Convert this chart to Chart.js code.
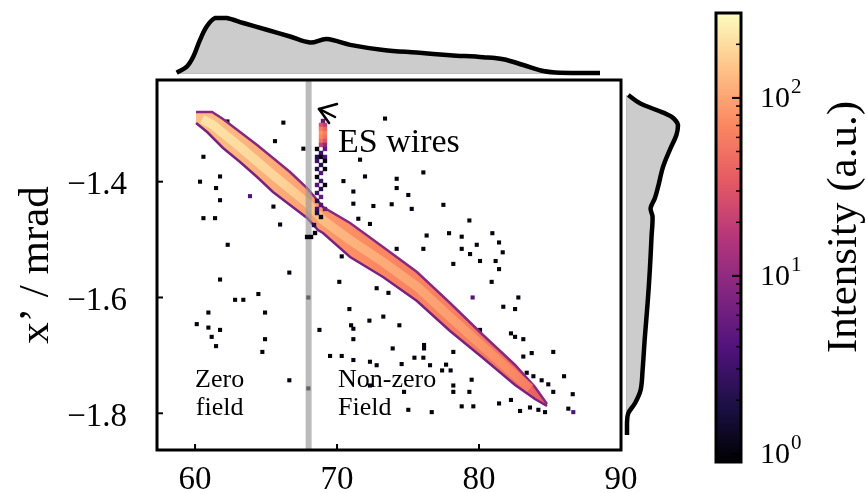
<!DOCTYPE html>
<html>
<head>
<meta charset="utf-8">
<script src="https://cdn.jsdelivr.net/npm/chart.js@4.4.0/dist/chart.umd.min.js"></script>
<style>
  html, body { margin: 0; padding: 0; background: #fff; }
  #wrap { position: relative; width: 866px; height: 493px; overflow: hidden; }
  #wrap canvas { position: absolute; left: 0; top: 0; }
</style>
</head>
<body>
<div id="wrap">
  <canvas id="topm" width="866" height="493"></canvas>
  <canvas id="rightm" width="866" height="493"></canvas>
  <canvas id="main" width="866" height="493"></canvas>
  <canvas id="cbar" width="866" height="493"></canvas>
</div>
<script>
const FONT = "'Liberation Serif', 'Times New Roman', serif";

// axes
const xRange = [57.32, 90];
const yRange = [-1.8634, -1.2244];
const xTicks = [60, 70, 80, 90];
const yTicks = [-1.4, -1.6, -1.8];
const yTickLabels = ['\u22121.4', '\u22121.6', '\u22121.8'];
const yTitle = 'x\u2019 / mrad';

// colour bar (log scale)
const cbRange = [0.9, 300];
const cbTicks = [1, 10, 100];
const cbTickBase = ['10', '10', '10'];
const cbTickExp = ['0', '1', '2'];
const cbTitle = 'Intensity (a.u.)';

// boundary between zero field and non-zero field
const fieldEdgeX = 68.0;

// main beam band: upper and lower edges
const bandUpperX = [60.07, 61.20, 61.97, 63.17, 64.37, 65.49, 66.69, 67.89, 68.66, 69.01, 70.92, 73.24, 75.63, 77.96, 80.28, 82.54, 83.94, 84.79];
const bandUpperY = [-1.2796, -1.2796, -1.2917, -1.3142, -1.3366, -1.3591, -1.3833, -1.4109, -1.4333, -1.4437, -1.4713, -1.5128, -1.5560, -1.6095, -1.6648, -1.7166, -1.7546, -1.7839];
const bandLowerX = [60.07, 60.85, 61.97, 63.17, 64.37, 65.49, 66.69, 67.89, 68.66, 69.01, 70.92, 73.24, 75.63, 77.96, 80.28, 82.54, 83.94, 84.79];
const bandLowerY = [-1.2986, -1.3142, -1.3418, -1.3660, -1.3919, -1.4178, -1.4402, -1.4627, -1.4834, -1.4886, -1.5301, -1.5646, -1.6061, -1.6579, -1.7045, -1.7511, -1.7753, -1.7874];
// band centre (brightest part)
const bandCoreX = [60.5, 61.20, 63.17, 65.49, 67.89, 69.01, 70.92, 73.24, 75.63, 77.96, 80.28, 82.54, 83.60];
const bandCoreY = [-1.292, -1.301, -1.3401, -1.3885, -1.4368, -1.4662, -1.5007, -1.5387, -1.5811, -1.6337, -1.6847, -1.7339, -1.757];
// intensity along the band
const bandIntensityX = [60, 63, 66, 68, 70, 73, 76, 79, 82, 84.8];
const bandCoreI = [220, 200, 180, 150, 125, 110, 100, 90, 75, 50];
const bandEdgeI = [140, 125, 110, 95, 80, 70, 65, 60, 50, 35];

// sparse single counts
const dotsX = [62.28, 66.22, 65.63, 67.63, 60.59, 60.35, 61.76, 61.48, 61.76, 63.87, 60.59, 61.41, 65.52, 65.99, 62.30,
  66.64, 61.76, 62.82, 63.40, 64.46, 60.94, 64.93, 60.12, 60.94, 61.76, 61.17, 64.93, 61.48, 64.74, 66.64, 67.98, 67.98,
  73.38, 71.62, 76.08, 71.97, 74.20, 70.45, 74.20, 75.02, 71.15, 71.15, 72.56, 73.85, 75.26, 77.49, 71.50, 72.32, 79.32,
  77.89, 78.78, 80.94, 76.31, 81.41, 79.84, 78.78, 79.37, 81.67, 74.20, 76.08, 70.33, 80.07, 81.17, 78.19, 81.41, 74.67,
  80.89, 70.16, 72.79, 73.62, 77.25, 77.49, 79.55, 82.77, 81.71, 82.54, 70.87, 72.28, 73.26, 70.99, 71.15, 74.39, 79.55,
  80.07, 82.25, 82.54, 83.12, 68.76, 71.15, 73.92, 76.13, 76.13, 78.19, 83.71, 85.23, 69.51, 70.33, 71.15, 72.32, 72.79,
  74.55, 75.45, 76.08, 76.55, 77.68, 77.40, 78.00, 83.12, 83.36, 83.83, 85.99, 84.41, 78.19, 79.48, 72.32, 74.72, 78.19,
  79.32, 85.23, 86.60, 81.41, 82.25, 82.89, 83.59, 84.18, 84.65, 75.02, 76.67, 78.78, 79.60, 86.29, 86.64, 84.88];
const dotsY = [-1.296, -1.298, -1.330, -1.343, -1.357, -1.400, -1.391, -1.411, -1.432, -1.425, -1.463, -1.463, -1.443, -1.474, -1.509,
  -1.557, -1.569, -1.604, -1.604, -1.594, -1.626, -1.626, -1.646, -1.652, -1.656, -1.668, -1.672, -1.684, -1.694, -1.743, -1.757, -1.600,
  -1.291, -1.362, -1.384, -1.391, -1.395, -1.399, -1.411, -1.423, -1.417, -1.438, -1.442, -1.439, -1.447, -1.440, -1.464, -1.473, -1.467,
  -1.489, -1.495, -1.489, -1.493, -1.505, -1.509, -1.516, -1.525, -1.522, -1.516, -1.516, -1.529, -1.537, -1.537, -1.542, -1.551, -1.548,
  -1.573, -1.573, -1.584, -1.592, -1.600, -1.604, -1.600, -1.600, -1.616, -1.620, -1.620, -1.640, -1.633, -1.648, -1.654, -1.648, -1.653,
  -1.656, -1.662, -1.668, -1.672, -1.656, -1.672, -1.688, -1.682, -1.688, -1.694, -1.696, -1.694, -1.701, -1.701, -1.708, -1.711, -1.717,
  -1.715, -1.704, -1.704, -1.717, -1.716, -1.726, -1.726, -1.702, -1.730, -1.736, -1.736, -1.743, -1.752, -1.742, -1.752, -1.763, -1.763,
  -1.763, -1.763, -1.767, -1.783, -1.777, -1.796, -1.790, -1.794, -1.798, -1.794, -1.798, -1.788, -1.788, -1.792, -1.798, -1.750];
const dotsI = dotsX.map((x, i) => [9, 72, 131].includes(i) ? 4 : 1);

// ES wires column
const wireX = [69.01, 68.87, 69.15, 68.87, 69.15, 68.87, 69.15, 68.87, 69.15, 68.87, 69.15, 68.87, 69.15, 68.59, 69.15,
  68.87, 68.59, 68.87, 69.15, 68.59, 68.87, 69.15, 68.59, 68.87, 69.15, 68.59, 68.87, 68.59, 68.87, 69.15, 68.59, 68.87,
  68.59, 68.87, 68.59, 69.15, 68.59, 68.87, 68.38, 68.45, 67.89, 68.17];
const wireY = [-1.2952, -1.3021, -1.3021, -1.3090, -1.3090, -1.3159, -1.3159, -1.3228, -1.3228, -1.3297, -1.3297, -1.3366, -1.3366, -1.3435, -1.3435,
  -1.3504, -1.3573, -1.3573, -1.3573, -1.3642, -1.3712, -1.3642, -1.3781, -1.3850, -1.3781, -1.3919, -1.3988, -1.4057, -1.4126, -1.4057, -1.4195, -1.4264,
  -1.4333, -1.4402, -1.4471, -1.4471, -1.4541, -1.4610, -1.4748, -1.4886, -1.4955, -1.4955];
const wireI = [5, 30, 20, 60, 40, 80, 60, 70, 50, 50, 30, 20, 10, 1, 5,
  3, 2, 1, 4, 3, 2, 1, 2, 4, 1, 1, 3, 4, 2, 1, 3, 5,
  2, 4, 3, 6, 2, 1, 2, 1, 1, 1];

// marginal distributions (normalised)
const topX = [58.71, 59.42, 59.88, 60.35, 60.82, 61.41, 62.23, 63.40, 65.05, 66.69, 68.10, 69.27, 70.92, 73.26, 75.61, 77.96, 80.30, 81.71, 83.12, 84.53, 85.70, 88.52];
const topD = [0.005, 0.115, 0.298, 0.603, 0.846, 1.0, 1.0, 0.909, 0.786, 0.664, 0.554, 0.616, 0.512, 0.420, 0.371, 0.324, 0.287, 0.250, 0.146, 0.037, 0.005, 0.0];
const rightY = [-1.2503, -1.2646, -1.2762, -1.2877, -1.3021, -1.3193, -1.3453, -1.3741, -1.4086, -1.4287, -1.4459, -1.4604, -1.4950, -1.5525, -1.6100, -1.6677, -1.7252, -1.7598, -1.7827, -1.8000, -1.8173, -1.8375];
const rightD = [0.025, 0.253, 0.579, 0.871, 1.0, 0.969, 0.838, 0.708, 0.610, 0.546, 0.462, 0.501, 0.481, 0.448, 0.404, 0.351, 0.306, 0.267, 0.156, 0.025, 0.0, 0.0];

// annotations
const notes = [
  { text: 'ES wires', x: 70.07, y: -1.3487, size: 34 },
  { text: 'Zero', x: 60.0, y: -1.7546, size: 26 },
  { text: 'field', x: 60.05, y: -1.8029, size: 26 },
  { text: 'Non-zero', x: 70.07, y: -1.7546, size: 26 },
  { text: 'Field', x: 70.07, y: -1.8029, size: 26 }
];
const arrowTip = [68.73, -1.2744];
const arrowEnds = [[70.0, -1.2658], [69.44, -1.2986], [69.86, -1.2883]];

const magma = ['#000004', '#1c1044', '#4f127b', '#812581', '#b5367a', '#e55964', '#fb8761', '#fec287', '#fcfdbf'];

const hexToRgb = h => [1, 3, 5].map(i => parseInt(h.slice(i, i + 2), 16));

// log-scaled magma lookup
const cmap = v => {
  const lo = Math.log10(cbRange[0]), hi = Math.log10(cbRange[1]);
  const t = Math.min(1, Math.max(0, (Math.log10(v) - lo) / (hi - lo)));
  const f = t * (magma.length - 1);
  const i = Math.min(Math.floor(f), magma.length - 2);
  const r = f - i;
  const a = hexToRgb(magma[i]), b = hexToRgb(magma[i + 1]);
  return 'rgb(' + a.map((c, k) => Math.round(c + (b[k] - c) * r)).join(',') + ')';
};

const bandGradient = (chart, values) => {
  const { ctx, chartArea, scales } = chart;
  if (!chartArea || !scales.x) return cmap(values[0]);
  const n = bandIntensityX.length - 1;
  const x0 = scales.x.getPixelForValue(bandIntensityX[0]);
  const x1 = scales.x.getPixelForValue(bandIntensityX[n]);
  const g = ctx.createLinearGradient(x0, 0, x1, 0);
  bandIntensityX.forEach((bx, i) => {
    g.addColorStop((bx - bandIntensityX[0]) / (bandIntensityX[n] - bandIntensityX[0]), cmap(values[i]));
  });
  return g;
};

const pts = (xs, ys) => xs.map((x, i) => ({ x, y: ys[i] }));

Chart.defaults.font.family = FONT;
Chart.defaults.color = '#000';
Chart.defaults.animation = false;
Chart.defaults.events = [];
Chart.defaults.plugins.legend.display = false;
Chart.defaults.plugins.tooltip.enabled = false;

// frame, inward ticks, labels and arrow on the main panel
const mainDecor = {
  id: 'mainDecor',
  afterDraw(chart) {
    const { ctx, chartArea: a, scales: { x, y } } = chart;
    ctx.save();
    ctx.fillStyle = '#000';
    ctx.textAlign = 'left';
    ctx.textBaseline = 'alphabetic';
    notes.forEach(n => {
      ctx.font = n.size + 'px ' + FONT;
      ctx.fillText(n.text, x.getPixelForValue(n.x), y.getPixelForValue(n.y));
    });

    ctx.strokeStyle = '#000';
    ctx.lineWidth = 2.5;
    ctx.lineCap = 'round';
    const tx = x.getPixelForValue(arrowTip[0]), ty = y.getPixelForValue(arrowTip[1]);
    arrowEnds.forEach(e => {
      ctx.beginPath();
      ctx.moveTo(tx, ty);
      ctx.lineTo(x.getPixelForValue(e[0]), y.getPixelForValue(e[1]));
      ctx.stroke();
    });

    ctx.lineCap = 'butt';
    ctx.lineWidth = 2;
    xTicks.forEach(v => {
      const px = x.getPixelForValue(v);
      if (px > a.right - 3) return;
      ctx.beginPath();
      ctx.moveTo(px, a.bottom);
      ctx.lineTo(px, a.bottom - 6);
      ctx.stroke();
    });
    yTicks.forEach(v => {
      const py = y.getPixelForValue(v);
      ctx.beginPath();
      ctx.moveTo(a.left, py);
      ctx.lineTo(a.left + 6, py);
      ctx.stroke();
    });

    ctx.lineWidth = 3;
    ctx.strokeRect(a.left, a.top, a.right - a.left, a.bottom - a.top);
    ctx.restore();
  }
};

new Chart(document.getElementById('main'), {
  type: 'scatter',
  data: {
    datasets: [
      {
        label: 'counts',
        data: pts(dotsX, dotsY),
        pointStyle: 'rect',
        pointRadius: 2.9,
        backgroundColor: dotsI.map(cmap),
        borderWidth: 0,
        order: 6
      },
      {
        type: 'line',
        label: 'band upper',
        data: pts(bandUpperX, bandUpperY),
        borderColor: cmap(9),
        borderWidth: 2.5,
        pointRadius: 0,
        fill: false,
        order: 3
      },
      {
        type: 'line',
        label: 'band lower',
        data: pts(bandLowerX, bandLowerY),
        borderColor: cmap(7),
        borderWidth: 2.5,
        pointRadius: 0,
        fill: 1,
        backgroundColor: c => bandGradient(c.chart, bandEdgeI),
        order: 4
      },
      {
        type: 'line',
        label: 'band core',
        data: pts(bandCoreX, bandCoreY),
        borderColor: c => bandGradient(c.chart, bandCoreI),
        borderWidth: 9,
        borderCapStyle: 'butt',
        pointRadius: 0,
        fill: false,
        order: 2
      },
      {
        type: 'line',
        label: 'field edge',
        data: [{ x: fieldEdgeX, y: yRange[0] }, { x: fieldEdgeX, y: yRange[1] }],
        borderColor: 'rgba(150,150,150,0.65)',
        borderWidth: 6,
        pointRadius: 0,
        fill: false,
        order: 1
      },
      {
        label: 'ES wires',
        data: pts(wireX, wireY),
        pointStyle: 'rect',
        pointRadius: 3.1,
        backgroundColor: wireI.map(cmap),
        borderWidth: 0,
        order: 0
      }
    ]
  },
  options: {
    responsive: false,
    layout: { padding: { left: 0, top: 80, right: 245, bottom: 0 } },
    scales: {
      x: {
        type: 'linear',
        min: xRange[0],
        max: xRange[1],
        afterBuildTicks: s => { s.ticks = xTicks.map(v => ({ value: v })); },
        afterFit: s => { s.height = 43; },
        ticks: { font: { size: 33 }, padding: 3, autoSkip: false, maxRotation: 0, callback: v => String(v) },
        grid: { display: false },
        border: { display: false }
      },
      y: {
        type: 'linear',
        min: yRange[0],
        max: yRange[1],
        afterBuildTicks: s => { s.ticks = yTicks.map(v => ({ value: v })); },
        afterFit: s => { s.width = 157; },
        ticks: { font: { size: 33 }, padding: 22, labelOffset: 4, callback: (v, i) => yTickLabels[i] },
        title: { display: true, text: yTitle, font: { size: 43 }, padding: { top: 11, bottom: 0 } },
        grid: { display: false },
        border: { display: false }
      }
    }
  },
  plugins: [mainDecor]
});

// top marginal
new Chart(document.getElementById('topm'), {
  type: 'line',
  data: {
    datasets: [
      {
        data: pts(topX, topD),
        borderColor: '#000',
        borderWidth: 4.5,
        backgroundColor: '#cccccc',
        fill: 'origin',
        tension: 0.35,
        pointRadius: 0,
        clip: false,
        order: 0
      },
      {
        data: [{ x: topX[0], y: 0 }, { x: topX[topX.length - 1], y: 0 }],
        borderColor: '#a9a9a9',
        borderWidth: 1.5,
        pointRadius: 0,
        fill: false,
        clip: false,
        order: 1
      }
    ]
  },
  options: {
    responsive: false,
    layout: { padding: { left: 157, top: 18, right: 245, bottom: 420 } },
    scales: {
      x: { type: 'linear', min: xRange[0], max: xRange[1], display: false },
      y: { type: 'linear', min: 0, max: 1, display: false }
    }
  }
});

// right marginal
new Chart(document.getElementById('rightm'), {
  type: 'line',
  data: {
    datasets: [
      {
        data: rightY.map((y, i) => ({ x: rightD[i], y })),
        borderColor: '#000',
        borderWidth: 4.5,
        backgroundColor: '#cccccc',
        fill: 'origin',
        tension: 0.35,
        pointRadius: 0,
        clip: false,
        order: 0
      },
      {
        data: [{ x: 0, y: rightY[0] }, { x: 0, y: rightY[rightY.length - 1] }],
        borderColor: '#a9a9a9',
        borderWidth: 1.5,
        pointRadius: 0,
        fill: false,
        clip: false,
        order: 1
      }
    ]
  },
  options: {
    indexAxis: 'y',
    responsive: false,
    layout: { padding: { left: 627, top: 80, right: 188, bottom: 43 } },
    scales: {
      x: { type: 'linear', min: 0, max: 1, display: false },
      y: { type: 'linear', min: yRange[0], max: yRange[1], display: false }
    }
  }
});

// colour bar frame, ticks, tick labels with exponents, rotated label
const cbarDecor = {
  id: 'cbarDecor',
  afterDraw(chart) {
    const { ctx, chartArea: a, scales: { y } } = chart;
    ctx.save();
    ctx.strokeStyle = '#000';
    for (let k = 0; k <= 2; k++) {
      for (let m = 1; m <= 9; m++) {
        const v = m * Math.pow(10, k);
        if (v < cbRange[0] || v > cbRange[1]) continue;
        const py = y.getPixelForValue(v);
        ctx.lineWidth = m === 1 ? 2 : 1.5;
        ctx.beginPath();
        ctx.moveTo(a.right, py);
        ctx.lineTo(a.right - (m === 1 ? 9 : 5), py);
        ctx.stroke();
      }
    }
    ctx.lineWidth = 3;
    ctx.strokeRect(a.left, a.top, a.right - a.left, a.bottom - a.top);

    ctx.fillStyle = '#000';
    ctx.textAlign = 'left';
    ctx.textBaseline = 'middle';
    cbTicks.forEach((v, i) => {
      const py = y.getPixelForValue(v);
      const lx = a.right + 19;
      ctx.font = '30px ' + FONT;
      ctx.fillText(cbTickBase[i], lx, py + 1);
      const w = ctx.measureText(cbTickBase[i]).width;
      ctx.font = '21px ' + FONT;
      ctx.fillText(cbTickExp[i], lx + w + 1, py - 10);
    });

    ctx.translate(845, 227);
    ctx.rotate(-Math.PI / 2);
    ctx.font = '43px ' + FONT;
    ctx.textAlign = 'center';
    ctx.textBaseline = 'middle';
    ctx.fillText(cbTitle, 0, 0);
    ctx.restore();
  }
};

new Chart(document.getElementById('cbar'), {
  type: 'bar',
  data: {
    labels: [''],
    datasets: [{
      data: [cbRange],
      backgroundColor: c => {
        const { ctx, chartArea } = c.chart;
        if (!chartArea) return magma[4];
        const g = ctx.createLinearGradient(0, chartArea.bottom, 0, chartArea.top);
        magma.forEach((col, i) => g.addColorStop(i / (magma.length - 1), col));
        return g;
      },
      barPercentage: 1,
      categoryPercentage: 1,
      borderWidth: 0
    }]
  },
  options: {
    responsive: false,
    layout: { padding: { left: 716, top: 13, right: 0, bottom: 31 } },
    scales: {
      x: { display: false },
      y: {
        type: 'logarithmic',
        position: 'right',
        min: cbRange[0],
        max: cbRange[1],
        afterBuildTicks: s => { s.ticks = cbTicks.map(v => ({ value: v })); },
        afterFit: s => { s.width = 125; },
        ticks: { display: false },
        grid: { display: false },
        border: { display: false }
      }
    }
  },
  plugins: [cbarDecor]
});
</script>
</body>
</html>
